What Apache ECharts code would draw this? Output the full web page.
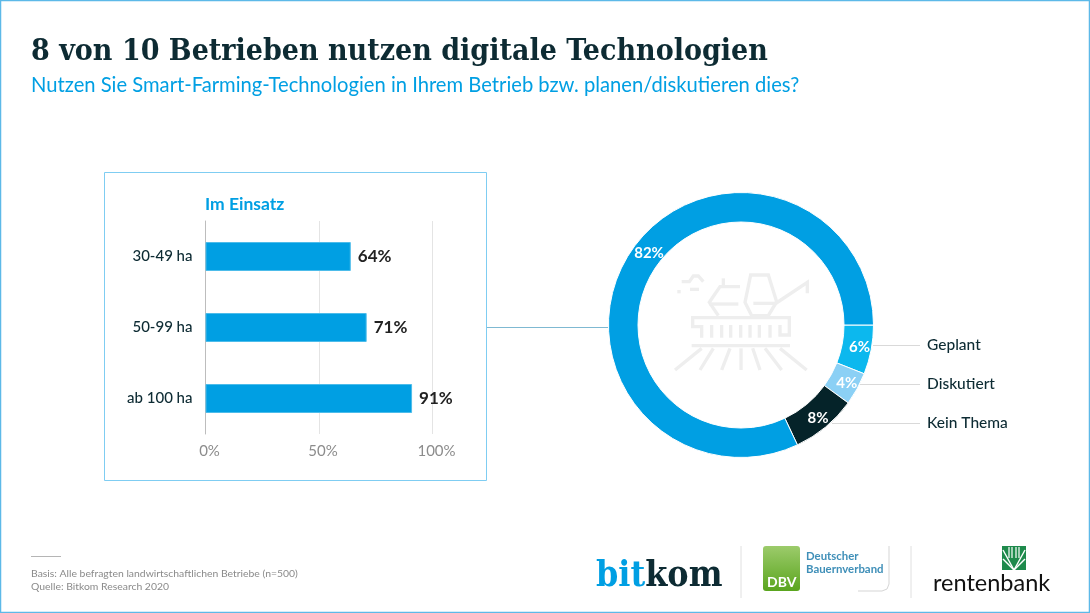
<!DOCTYPE html>
<html><head><meta charset="utf-8">
<style>html,body{margin:0;padding:0;background:#fff}#c{width:1090px;height:613px}</style>
<script src="https://cdn.jsdelivr.net/npm/echarts@6/dist/echarts.min.js"></script>
</head><body><div id="c"></div>
<script>
const categories = ['30-49 ha', '50-99 ha', 'ab 100 ha'];
const barValues = [64, 71, 91];
const xTicks = [0, 50, 100];
const donutNames = ['Geplant', 'Diskutiert', 'Kein Thema', 'Im Einsatz'];
const donutValues = [6, 4, 8, 82];
const donutColors = ['#0cb8ee', '#8bd0f5', '#052329', '#009fe3'];
const titleText = '8 von 10 Betrieben nutzen digitale Technologien';
const subtitleText = 'Nutzen Sie Smart-Farming-Technologien in Ihrem Betrieb bzw. planen/diskutieren dies?';
const barTitle = 'Im Einsatz';
const footerLines = ['Basis: Alle befragten landwirtschaftlichen Betriebe (n=500)', 'Quelle: Bitkom Research 2020'];

const SANS = 'Lato, "Noto Sans", sans-serif';
const SERIF = '"DejaVu Serif Condensed", "DejaVu Serif", serif';
const DARK = '#0d2b33';

function line(x1, y1, x2, y2, color, w) {
  return {type:'line', silent:true, shape:{x1,y1,x2,y2}, style:{stroke:color, lineWidth:w||1}};
}
function poly(points, closed) {
  return {type: closed ? 'polygon' : 'polyline', silent:true, shape:{points},
    style:{stroke:'#eeeeee', lineWidth:10, fill:null, lineJoin:'miter'}};
}
function txt(x, y, text, font, fill) {
  return {type:'text', silent:true, x, y, style:{text, font, fill, verticalAlign:'middle'}};
}
const teeth = [335,365,392,422,450,478,510].map(x => poly([[x,420],[x,458]]));
const rays = [[305,490,225,555],[340,490,300,555],[390,490,365,555],[423,490,423,555],[458,490,480,555],[495,490,545,555],[540,490,620,555]]
  .map(r => poly([[r[0],r[1]],[r[2],r[3]]]));
const tractor = {type:'group', x:600, y:185, scaleX:1/3, scaleY:1/3, silent:true, children:[
  poly([[275,482],[570,482]]),
  poly([[305,458],[305,425],[278,425],[278,398],[568,398],[568,450],[540,450],[540,420]]),
  poly([[370,280],[370,305]]),
  poly([[420,305],[360,305],[328,352],[355,392]]),
  poly([[328,357],[415,357]]),
  poly([[452,270],[505,270],[530,350],[505,392],[455,392],[435,352]], true),
  poly([[460,355],[530,355]]),
  poly([[520,360],[622,292],[622,325]]),
  poly([[245,290],[268,290],[280,273],[295,273],[310,290]]),
  poly([[232,320],[242,320]]),
  poly([[270,313],[297,313]])
].concat(teeth, rays)};

const chevrons = [];
[[1014,570,1003,559],[1014,570,1003,550],[1014,570,1025,559],[1014,570,1025,550]].forEach(c => {
  chevrons.push(line(c[0],c[1],c[2],c[3],'#ffffff',1.4));
});
[1009,1012,1016,1019].forEach(x => chevrons.push(line(x,547,x,558,'#ffffff',1.2)));

const graphics = [
  {type:'rect', silent:true, shape:{x:0.5,y:0.5,width:1089,height:612}, style:{fill:null, stroke:'#5cb9e8', lineWidth:1.5}},
  {type:'rect', silent:true, shape:{x:104.5,y:172.5,width:382,height:308}, style:{fill:null, stroke:'#7fcdf2', lineWidth:1}},
  line(487,327.5,608,327.5,'#7fb9d2',1),
  tractor,
  line(873,345.5,920,345.5,'#d9d9d9',1.2),
  line(860,384.5,920,384.5,'#d9d9d9',1.2),
  line(832,423.5,920,423.5,'#d9d9d9',1.2),
  line(31,556.5,61,556.5,'#b5b5b5',1),
  txt(31,574,footerLines[0],'10.4px '+SANS,'#8a8a8a'),
  txt(31,587,footerLines[1],'10.4px '+SANS,'#8a8a8a'),
  line(741,546,741,598,'#e0e0e0',1),
  line(911,546,911,598,'#e0e0e0',1),
  {type:'text', silent:true, x:596, y:577, style:{text:'{a|bit}{b|kom}', verticalAlign:'middle',
    rich:{a:{font:'bold 35.5px '+SERIF, fill:'#009fe3'}, b:{font:'bold 35.5px '+SERIF, fill:DARK}}}},
  {type:'rect', silent:true, shape:{x:763,y:546,width:37,height:45,r:3}, style:{
    fill:new echarts.graphic.LinearGradient(0,0,0,1,[{offset:0,color:'#9ccb6b'},{offset:1,color:'#5aa51e'}])}},
  txt(767,582,'DBV','bold 14px '+SANS,'#ffffff'),
  txt(806,556.5,'Deutscher','bold 11.4px '+SANS,'#3f8fb8'),
  txt(806,569,'Bauernverband','bold 11.4px '+SANS,'#3f8fb8'),
  {type:'polyline', silent:true, shape:{points:[[889,546],[889,584],[887,589],[882,591],[858,591]]}, style:{stroke:'#d5d5d5', fill:null, lineWidth:1}},
  {type:'rect', silent:true, shape:{x:1002,y:546,width:24,height:24}, style:{fill:'#1e8a4c'}},
  ...chevrons,
  txt(933,583,'rentenbank','23.5px '+SANS,'#111111')
];

const option = {
  animation:false,
  backgroundColor:'#ffffff',
  title:[
    {text:titleText, left:31, top:37, padding:0, textStyle:{fontFamily:SERIF, fontWeight:'bold', fontSize:30, color:DARK}},
    {text:subtitleText, left:31, top:75, padding:0, textStyle:{fontFamily:SANS, fontWeight:'normal', fontSize:20.2, color:'#009fe3'}},
    {text:barTitle, left:205, top:195, padding:0, textStyle:{fontFamily:SANS, fontWeight:'bold', fontSize:17.5, color:'#009fe3'}}
  ],
  grid:{left:205.5, top:221, width:227, height:213, containLabel:false},
  xAxis:{type:'value', min:xTicks[0], max:xTicks[2], interval:xTicks[1],
    axisLine:{show:false}, axisTick:{show:false},
    splitLine:{show:true, lineStyle:{color:'#e4e4e4', width:1}},
    axisLabel:{margin:10, fontFamily:SANS, fontSize:15, color:'#8c8c8c', padding:[0,0,0,8], formatter:'{value}%'}},
  yAxis:{type:'category', data:categories, inverse:true,
    axisLine:{show:true, lineStyle:{color:'#bdbdbd', width:1}}, axisTick:{show:false},
    axisLabel:{margin:13, fontFamily:SANS, fontWeight:500, fontSize:15, color:DARK}},
  series:[
    {type:'bar', data:barValues, barWidth:29, silent:true,
      itemStyle:{color:'#009fe3', borderColor:'#4dbcea', borderWidth:1},
      label:{show:true, position:'right', distance:7, formatter:'{c}%', fontFamily:SANS, fontWeight:'bold', fontSize:17, color:'#222222'}},
    {type:'pie', center:[741,325], radius:[103,132.5], startAngle:0, clockwise:true, silent:true, z:4,
      data:donutNames.map((n,i) => ({name:n, value:donutValues[i], itemStyle:{color:donutColors[i]}})),
      itemStyle:{borderColor:'#ffffff', borderWidth:1},
      label:{show:true, position:'inside', formatter:'{c}%', fontFamily:SANS, fontWeight:'bold', fontSize:15, color:'#ffffff'},
      labelLine:{show:false},
      labelLayout:p => p.dataIndex === 3 ? {dx:10, dy:-7} : {}},
    {type:'pie', center:[741,325], radius:[103,132.5], startAngle:0, clockwise:true, silent:true, z:3,
      data:donutNames.slice(0,3).map((n,i) => ({name:n, value:donutValues[i]})).concat([{name:donutNames[3], value:donutValues[3], label:{show:false}}]),
      itemStyle:{color:'rgba(0,0,0,0)'},
      label:{show:true, position:'outside', formatter:'{b}', fontFamily:SANS, fontWeight:500, fontSize:15.5, color:DARK},
      labelLine:{show:false},
      labelLayout:p => ({x:927, y:[345,384,423,0][p.dataIndex], align:'left', verticalAlign:'middle', moveOverlap:false})}
  ],
  graphic:{elements:graphics}
};
echarts.init(document.getElementById('c'), null, {renderer:'canvas'}).setOption(option);
</script></body></html>
